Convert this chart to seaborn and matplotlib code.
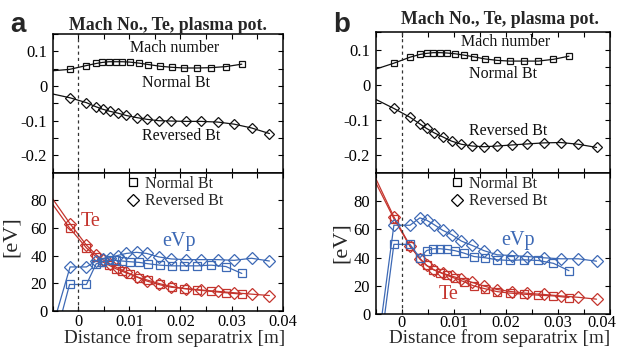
import numpy as np
import matplotlib
matplotlib.use("Agg")
import matplotlib.pyplot as plt
from matplotlib.lines import Line2D
from matplotlib.transforms import ScaledTranslation
import seaborn as sns

sns.set_theme(style="ticks")
plt.rcParams['font.family'] = ['Liberation Serif', 'DejaVu Serif']
plt.rcParams['axes.unicode_minus'] = False

# ---------------- data ----------------
X_EDGE = -0.005          # left edge of the axes where curves start
VP_LEAD_X = -0.0045      # deepest probe position (eVp clipped below 0)

# panel a
XA_N = [-0.0017, 0.0016, 0.0035, 0.0047, 0.0060, 0.0073, 0.0086, 0.0101, 0.0119,
        0.0137, 0.0160, 0.0183, 0.0207, 0.0233, 0.0260, 0.0289, 0.0320]
XA_R = [-0.0016, 0.0016, 0.0035, 0.0048, 0.0062, 0.0077, 0.0094, 0.0114, 0.0134,
        0.0157, 0.0182, 0.0211, 0.0240, 0.0273, 0.0305, 0.0339, 0.0374]
MACH_A_N = [0.048, 0.059, 0.065, 0.068, 0.070, 0.070, 0.070, 0.069, 0.066,
            0.062, 0.057, 0.054, 0.052, 0.052, 0.053, 0.056, 0.063]
MACH_A_R = [-0.034, -0.048, -0.060, -0.067, -0.073, -0.078, -0.085, -0.091, -0.096,
            -0.100, -0.101, -0.102, -0.102, -0.104, -0.110, -0.121, -0.137]
MACH_A_EDGE = [0.044, -0.023]
TE_A_N = [60, 45.5, 39, 35.5, 33, 30.5, 28.5, 26.5, 24, 22, 19.5, 17.5, 16, 15, 14, 13, 12]
TE_A_R = [63, 47.5, 40.5, 37, 33.5, 31, 28, 24.5, 21.5, 19, 17, 16, 15, 14, 13, 12, 11]
TE_A_EDGE = [77, 81]
VP_A_N = [19, 19, 34, 35.5, 36.5, 36.5, 36, 35.5, 35, 34, 33, 32.5, 32.5, 32.5, 33, 32, 27]
VP_A_R = [31.7, 31.7, 36, 37.5, 38.5, 40, 41.5, 42.3, 41.5, 39, 37.5, 37, 37, 37, 36.5, 38, 36]
VP_A_LEAD = [-20, -5]

# panel b
XB_N = [-0.0015, 0.0016, 0.0035, 0.0048, 0.0061, 0.0074, 0.0087, 0.0102, 0.0120,
        0.0139, 0.0161, 0.0184, 0.0208, 0.0235, 0.0263, 0.0292, 0.0322]
XB_R = [-0.0015, 0.0016, 0.0035, 0.0048, 0.0062, 0.0079, 0.0096, 0.0115, 0.0136,
        0.0158, 0.0184, 0.0212, 0.0242, 0.0274, 0.0306, 0.0340, 0.0375]
MACH_B_N = [0.062, 0.079, 0.087, 0.090, 0.092, 0.092, 0.091, 0.089, 0.085,
            0.080, 0.074, 0.070, 0.068, 0.068, 0.068, 0.073, 0.082]
MACH_B_R = [-0.067, -0.092, -0.111, -0.124, -0.136, -0.148, -0.160, -0.169, -0.174,
            -0.176, -0.174, -0.171, -0.168, -0.165, -0.164, -0.169, -0.178]
MACH_B_EDGE = [0.045, -0.041]
TE_B_N = [67.6, 48, 39.5, 34.5, 31.5, 29.5, 27.5, 25.5, 23, 20, 18, 16, 15, 14.2, 13.5, 13, 11.8]
TE_B_R = [68.8, 48.5, 39, 34.5, 31.5, 29, 27, 25, 22.5, 20, 17.5, 16, 14.8, 14, 13, 12, 10.7]
TE_B_EDGE = [93, 96]
VP_B_N = [49.4, 49.4, 39.9, 45, 46.3, 46.3, 45.8, 45, 43.2, 40.8, 39.9, 38.5, 38, 38.5, 38, 36, 30.8]
VP_B_R = [62.9, 62.9, 68.1, 66.5, 63.4, 59.3, 56.3, 51.7, 48.6, 45, 42, 41.5, 40.8, 39.9, 39.2, 39.2, 37.5]
VP_B_LEAD = [-35, -20]

X_LABELS = ['0', '0.01', '0.02', '0.03', '0.04']
Y_TOP_LABELS = ['-0.2', '-0.1', '0', '0.1']
Y_BOT_LABELS = ['0', '20', '40', '60', '80']

RED = '#c4342d'
BLUE = '#3d69b5'
BLACK = '#111111'

# ---------------- figure ----------------
fig = plt.figure(figsize=(6.2, 3.47), dpi=100)

def px2fig(l, r, t, b):
    return [l / 620, 1 - b / 347, (r - l) / 620, (b - t) / 347]

def series(ax, x, y, color, marker, ms, lead_x=None, lead_y=None):
    lx = list(x)
    ly = list(y)
    if lead_x is not None:
        lx = [lead_x] + lx
        ly = [lead_y] + ly
    sns.lineplot(x=lx, y=ly, ax=ax, color=color, lw=0.9, estimator=None, sort=False)
    sns.lineplot(x=list(x), y=list(y), ax=ax, color=color, linestyle='', marker=marker,
                 markersize=ms, markerfacecolor='none', markeredgecolor=color,
                 markeredgewidth=0.9, estimator=None, sort=False)

def style(ax):
    ax.set_xlim(-0.005, 0.04)
    ax.tick_params(direction='in', top=True, right=True, length=3.5, width=0.8,
                   labelsize=12, pad=4, colors='black')
    for s in ax.spines.values():
        s.set_linewidth(1.1)
        s.set_color('black')
    ax.axvline(0, color='#333333', lw=0.9, ls=(0, (2.5, 2.5)))
    ax.set_xticks(np.arange(-0.005, 0.04001, 0.005))

panels = [
    dict(box=(52.7, 282.7, 34.0, 172.7, 310.7), label='a', lab_xy=(18, 25),
         xn=XA_N, xr=XA_R, mn=MACH_A_N, mr=MACH_A_R, me=MACH_A_EDGE,
         tn=TE_A_N, tr=TE_A_R, te=TE_A_EDGE, vn=VP_A_N, vr=VP_A_R, vl=VP_A_LEAD,
         mach_txt=[(0.0188, 0.110), (0.0192, 0.008), (0.0201, -0.145)],
         te_txt=(0.0024, 64.4), vp_txt=(0.0197, 49.9), leg_x=0.303,
         title_x=0.5, title_pad=3, ylab_px=(21, 237), xt_pad=2.2, last_shift=0),
    dict(box=(375.7, 609.5, 32.3, 172.7, 314.3), label='b', lab_xy=(342, 25),
         xn=XB_N, xr=XB_R, mn=MACH_B_N, mr=MACH_B_R, me=MACH_B_EDGE,
         tn=TE_B_N, tr=TE_B_R, te=TE_B_EDGE, vn=VP_B_N, vr=VP_B_R, vl=VP_B_LEAD,
         mach_txt=[(0.0200, 0.121), (0.0195, 0.031), (0.0205, -0.131)],
         te_txt=(0.0091, 14.2), vp_txt=(0.0224, 52.2), leg_x=0.305,
         title_x=0.53, title_pad=6, ylab_px=(351, 243), xt_pad=0.8, last_shift=-8),
]

for p in panels:
    l, r, t, m, b = p['box']
    w = r - l
    h2 = b - m
    ax1 = fig.add_axes(px2fig(l, r, t, m))
    ax2 = fig.add_axes(px2fig(l, r, m, b))

    # --- top: Mach number
    series(ax1, p['xn'], p['mn'], BLACK, 's', 5.0, X_EDGE, p['me'][0])
    series(ax1, p['xr'], p['mr'], BLACK, 'D', 5.2, X_EDGE, p['me'][1])
    style(ax1)
    ax1.set_ylim(-0.25, 0.15)
    ax1.set_yticks(np.arange(-0.25, 0.1501, 0.05))
    ax1.set_yticklabels(['', Y_TOP_LABELS[0], '', Y_TOP_LABELS[1], '', Y_TOP_LABELS[2], '',
                         Y_TOP_LABELS[3], ''])
    ax1.set_xticklabels([])
    ax1.set_title('Mach No., Te, plasma pot.', fontsize=12.8, fontweight='bold',
                  pad=p['title_pad'], x=p['title_x'])
    for (tx, ty), s in zip(p['mach_txt'], ['Mach number', 'Normal Bt', 'Reversed Bt']):
        ax1.text(tx, ty, s, ha='center', va='center', fontsize=11.5, color=BLACK)

    # --- bottom: Te and eVp
    series(ax2, p['xn'], p['tn'], RED, 's', 5.5, X_EDGE, p['te'][0])
    series(ax2, p['xr'], p['tr'], RED, 'D', 6.0, X_EDGE, p['te'][1])
    series(ax2, p['xn'], p['vn'], BLUE, 's', 5.5, VP_LEAD_X, p['vl'][0])
    series(ax2, p['xr'], p['vr'], BLUE, 'D', 6.0, VP_LEAD_X, p['vl'][1])
    style(ax2)
    ax2.tick_params(axis='x', pad=p['xt_pad'], labelsize=11.8)
    ax2.set_ylim(0, 100)
    ax2.set_yticks([0, 20, 40, 60, 80])
    ax2.set_yticklabels(Y_BOT_LABELS)
    xt = np.arange(-0.005, 0.04001, 0.005)
    ax2.set_xticklabels(['' if i % 2 == 0 else X_LABELS[(i - 1) // 2] for i in range(len(xt))])
    ax2.set_xlabel('Distance from separatrix [m]', fontsize=13.8)
    ax2.xaxis.label.set_va('bottom')
    ax2.xaxis.set_label_coords(0.5 + 7 / w, -(346.8 - b) / h2)
    ax2.set_ylabel('[eV]', fontsize=16)
    ax2.yaxis.set_label_coords(-(l - p['ylab_px'][0]) / w, (b - p['ylab_px'][1]) / h2)
    ax2.text(*p['te_txt'], 'Te', color=RED, fontsize=14.5, ha='center', va='center')
    ax2.text(*p['vp_txt'], 'eVp', color=BLUE, fontsize=14.5, ha='center', va='center')

    handles = [Line2D([], [], color='black', ls='', marker='s', ms=6, mfc='none', mew=0.9),
               Line2D([], [], color='black', ls='', marker='D', ms=6, mfc='none', mew=0.9)]
    ax2.legend(handles, ['Normal Bt', 'Reversed Bt'], loc='upper left',
               bbox_to_anchor=(p['leg_x'], 1.0), frameon=False, fontsize=11.5,
               handlelength=0.9, handletextpad=0.3, labelspacing=0.1, borderaxespad=0.1,
               borderpad=0.1)

    if p['last_shift']:
        lab = ax2.xaxis.get_major_ticks()[-1].label1
        lab.set_transform(lab.get_transform() +
                          ScaledTranslation(p['last_shift'] / 100, 0, fig.dpi_scale_trans))

    fig.text(p['lab_xy'][0] / 620, 1 - p['lab_xy'][1] / 347, p['label'],
             fontsize=20, fontweight='bold', family=['Liberation Sans', 'DejaVu Sans'],
             ha='center', va='center')

fig.savefig('out.png', dpi=100)
